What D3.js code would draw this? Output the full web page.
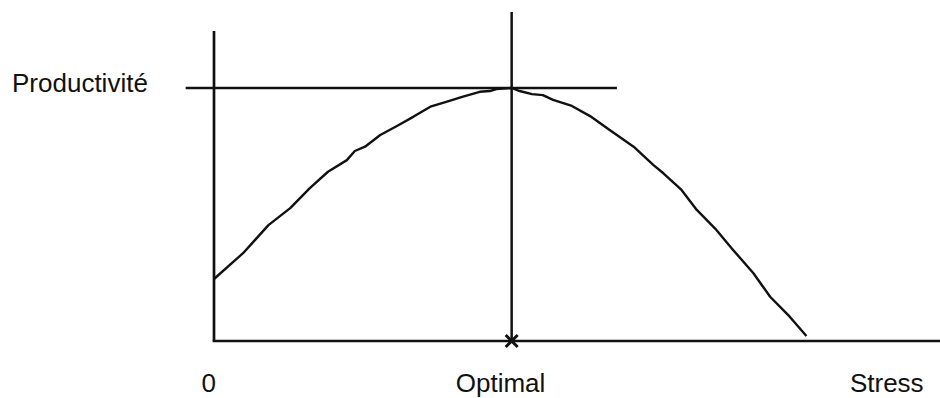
<!DOCTYPE html>
<html>
<head>
<meta charset="utf-8">
<script src="https://cdn.jsdelivr.net/npm/d3@7"></script>
<style>
  body { margin: 0; background: #fff; }
  text { font-family: "Liberation Sans", Arial, sans-serif; fill: #111; }
</style>
</head>
<body>
<div id="chart"></div>
<script>
// curve (stress 0..100, productivity 0..100)
var stress = [0, 4.0, 7.5, 10.5, 13.2, 15.7, 18.3, 19.4, 20.8, 22.9, 25.2, 27.5, 29.8, 32.1,
  34.3, 36.6, 38.0, 38.9, 41.0, 42.1, 43.8, 45.3, 46.7, 49.3, 51.8, 54.5, 57.8, 60.5, 61.9,
  64.4, 66.5, 69.2, 71.5, 74.3, 76.6, 79.3, 81.6];
var productivity = [24.5, 34.7, 45.8, 52.5, 60.4, 66.9, 71.5, 75.1, 76.8, 81.4, 85.0, 88.7,
  92.6, 94.6, 96.6, 98.5, 98.8, 99.6, 100, 98.8, 97.6, 97.2, 95.3, 92.9, 88.9, 83.4, 76.8,
  69.6, 66.3, 59.7, 51.8, 43.9, 36.0, 26.8, 17.5, 9.6, 2.0];

// reference lines
var optimalStress = 41;
var maxProductivity = 100;
var hLineStress = [-3.9, 55.5];
var yAxisTop = 122.5;
var optimalTop = 130;

// tick labels
var xTickValues = [-0.8, 39.4, 92.6];
var xTickLabels = ["0", "Optimal", "Stress"];
var yLabel = "Productivité";

var margin = {top: 88, right: 0, bottom: 57, left: 214},
    width = 940 - margin.left - margin.right,
    height = 398 - margin.top - margin.bottom;

var x = d3.scaleLinear().domain([0, 100]).range([0, width]);
var y = d3.scaleLinear().domain([0, 100]).range([height, 0]);

var svg = d3.select("#chart").append("svg")
    .attr("width", width + margin.left + margin.right)
    .attr("height", height + margin.top + margin.bottom)
  .append("g")
    .attr("transform", "translate(" + margin.left + "," + margin.top + ")");

var stroke = "#111";

// y axis line
svg.append("line")
    .attr("x1", x(0)).attr("x2", x(0))
    .attr("y1", y(yAxisTop)).attr("y2", y(0))
    .attr("stroke", stroke).attr("stroke-width", 2.7);

// x axis line
svg.append("line")
    .attr("x1", x(0) - 1.3).attr("x2", x(100))
    .attr("y1", y(0)).attr("y2", y(0))
    .attr("stroke", stroke).attr("stroke-width", 2.7);

// horizontal productivity line
svg.append("line")
    .attr("x1", x(hLineStress[0])).attr("x2", x(hLineStress[1]))
    .attr("y1", y(maxProductivity)).attr("y2", y(maxProductivity))
    .attr("stroke", stroke).attr("stroke-width", 2.5);

// vertical optimal line
svg.append("line")
    .attr("x1", x(optimalStress)).attr("x2", x(optimalStress))
    .attr("y1", y(optimalTop)).attr("y2", y(0))
    .attr("stroke", stroke).attr("stroke-width", 2.5);

// cross at optimal
svg.append("path")
    .attr("d", d3.symbol(d3.symbolX, 95)())
    .attr("transform", "translate(" + x(optimalStress) + "," + y(0) + ")")
    .attr("fill", "none")
    .attr("stroke", stroke)
    .attr("stroke-width", 3);

// the curve
var line = d3.line()
    .x(function(d, i) { return x(stress[i]); })
    .y(function(d, i) { return y(productivity[i]); });

svg.append("path")
    .datum(stress)
    .attr("d", line)
    .attr("fill", "none")
    .attr("stroke", stroke)
    .attr("stroke-width", 2.4)
    .attr("stroke-linejoin", "round");

// x labels
var xAxis = svg.append("g")
    .attr("transform", "translate(0," + height + ")")
    .call(d3.axisBottom(x)
      .tickValues(xTickValues)
      .tickFormat(function(d, i) { return xTickLabels[i]; })
      .tickSize(0)
      .tickPadding(33));
xAxis.select(".domain").remove();
xAxis.selectAll("text")
    .style("font-family", '"Liberation Sans", Arial, sans-serif')
    .style("font-size", "26px")
    .attr("fill", stroke);

// y label
svg.append("text")
    .attr("x", 12 - margin.left)
    .attr("y", y(maxProductivity) + 4)
    .style("font-size", "26px")
    .text(yLabel);
</script>
</body>
</html>
